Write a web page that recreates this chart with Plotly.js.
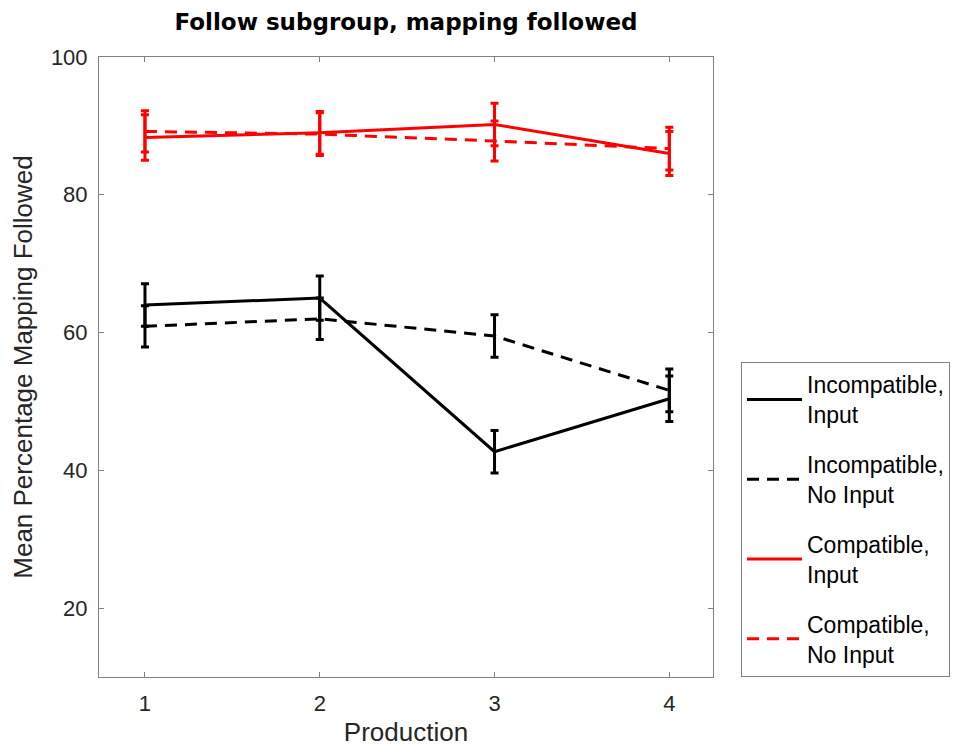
<!DOCTYPE html>
<html>
<head>
<meta charset="utf-8">
<script src="https://cdn.plot.ly/plotly-3.0.1.min.js"></script>
<style>html,body{margin:0;padding:0;background:#fff;}#chart{width:959px;height:747px;}</style>
</head>
<body>
<div id="chart"></div>
<script>
var productions = [1, 2, 3, 4];
var seriesNames = ["Incompatible,<br>Input", "Incompatible,<br>No Input", "Compatible,<br>Input", "Compatible,<br>No Input"];
var incompatibleInput = [64.0, 65.0, 42.7, 50.4];
var incompatibleInputErr = [3.1, 3.2, 3.1, 3.3];
var incompatibleNoInput = [60.9, 62.0, 59.5, 51.6];
var incompatibleNoInputErr = [3.0, 3.0, 3.1, 3.1];
var compatibleInput = [88.3, 89.0, 90.2, 86.0];
var compatibleInputErr = [3.3, 3.1, 3.1, 3.2];
var compatibleNoInput = [89.2, 88.8, 87.8, 86.7];
var compatibleNoInputErr = [3.0, 3.1, 2.9, 3.1];

var values = [incompatibleInput, incompatibleNoInput, compatibleInput, compatibleNoInput];
var errs = [incompatibleInputErr, incompatibleNoInputErr, compatibleInputErr, compatibleNoInputErr];
var colors = ["#000000", "#000000", "#ff0000", "#ff0000"];
var dashes = ["solid", "12px,8px", "solid", "12px,8px"];

var traces = values.map(function (v, i) {
  return {
    x: productions,
    y: v,
    name: seriesNames[i],
    legendgroup: "g" + i,
    type: "scatter",
    mode: "lines",
    line: {color: colors[i], width: 3, dash: dashes[i]},
    error_y: {type: "data", array: errs[i], visible: true, color: colors[i], thickness: 3, width: 4}
  };
});

var font = "'Liberation Sans', Arial, Helvetica, sans-serif";
var layout = {
  width: 959,
  height: 747,
  paper_bgcolor: "#ffffff",
  plot_bgcolor: "#ffffff",
  margin: {l: 99, r: 246, t: 57, b: 70},
  font: {family: font, color: "#262626"},
  title: {
    text: "<b>Follow subgroup, mapping followed</b>",
    font: {family: "'DejaVu Sans', sans-serif", size: 23, color: "#000000"},
    x: 0.5, xref: "paper", xanchor: "center",
    y: 1 - 22 / 747, yref: "container", yanchor: "middle"
  },
  xaxis: {
    range: [0.737, 4.25],
    tickvals: productions,
    ticktext: ["1", "2", "3", "4"],
    ticks: "inside", ticklen: 5, tickcolor: "#808080", tickwidth: 1,
    showline: true, linecolor: "#808080", linewidth: 1, mirror: "ticks",
    showgrid: false, zeroline: false,
    ticklabelstandoff: 7,
    tickfont: {family: font, size: 22, color: "#262626"},
    title: {text: "Production", font: {family: font, size: 26, color: "#262626"}, standoff: 8}
  },
  yaxis: {
    range: [10, 100],
    tickvals: [20, 40, 60, 80, 100],
    ticks: "inside", ticklen: 5, tickcolor: "#808080", tickwidth: 1,
    showline: true, linecolor: "#808080", linewidth: 1, mirror: "ticks",
    showgrid: false, zeroline: false,
    ticklabelstandoff: 6,
    tickfont: {family: font, size: 22, color: "#262626"},
    title: {text: "Mean Percentage Mapping Followed", font: {family: font, size: 26, color: "#262626"}, standoff: 10}
  },
  showlegend: true,
  legend: {
    xref: "container", yref: "container",
    x: 741 / 959, xanchor: "left",
    y: 70 / 747, yanchor: "bottom",
    bordercolor: "#808080", borderwidth: 1,
    bgcolor: "#ffffff",
    font: {family: font, size: 23, color: "#000000"},
    traceorder: "grouped",
    tracegroupgap: 17,
    itemwidth: 55
  }
};

Plotly.newPlot("chart", traces, layout, {displayModeBar: false, staticPlot: true});
</script>
</body>
</html>
